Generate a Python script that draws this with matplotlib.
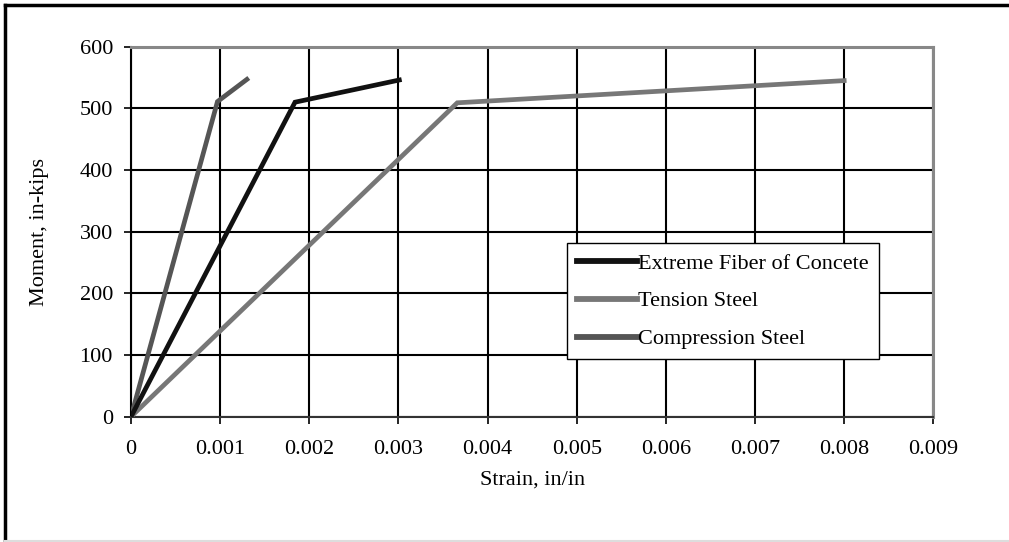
import matplotlib.pyplot as plt
from matplotlib.lines import Line2D

plt.rcParams['font.family'] = ['Liberation Serif', 'DejaVu Serif']

# strain (in/in) vs moment (in-kips)
concrete_strain = [0.0, 0.00184, 0.00301]
concrete_moment = [0, 510, 546]
tension_strain = [0.0, 0.00366, 0.0080]
tension_moment = [0, 509, 545]
compression_strain = [0.0, 0.00097, 0.0013]
compression_moment = [0, 511, 547]

x_ticks = [0, 0.001, 0.002, 0.003, 0.004, 0.005, 0.006, 0.007, 0.008, 0.009]
x_labels = ['0', '0.001', '0.002', '0.003', '0.004', '0.005', '0.006', '0.007', '0.008', '0.009']
y_ticks = [0, 100, 200, 300, 400, 500, 600]

fig = plt.figure(figsize=(10.09, 5.42), dpi=100)
ax = fig.add_axes([131 / 1009, 1 - 416.7 / 542, (933.3 - 131) / 1009, (416.7 - 46.7) / 542])

ax.plot(concrete_strain, concrete_moment, color='#111111', lw=3.4, label='Extreme Fiber of Concete',
        solid_joinstyle='miter', zorder=4)
ax.plot(tension_strain, tension_moment, color='#777777', lw=3.4, label='Tension Steel',
        solid_joinstyle='miter', zorder=3)
ax.plot(compression_strain, compression_moment, color='#555555', lw=3.4, label='Compression Steel',
        solid_joinstyle='miter', zorder=3)

ax.set_xlim(0, 0.009)
ax.set_ylim(0, 600)
ax.set_xticks(x_ticks)
ax.set_xticklabels(x_labels)
ax.set_yticks(y_ticks)
ax.grid(True, color='black', lw=1.5)
ax.set_axisbelow(True)
ax.tick_params(direction='out', length=5, width=1.2, labelsize=16, color='black')
ax.tick_params(axis='x', pad=12)
ax.tick_params(axis='y', pad=8)

ax.spines['left'].set_linewidth(1.5)
ax.spines['bottom'].set_linewidth(1.5)
ax.spines['bottom'].set_color('#333333')
ax.spines['top'].set_color('#888888')
ax.spines['right'].set_color('#888888')
ax.spines['top'].set_linewidth(2.2)
ax.spines['right'].set_linewidth(2.2)

ax.set_xlabel('Strain, in/in', fontsize=16, labelpad=8)
ax.set_ylabel('Moment, in-kips', fontsize=16, labelpad=22)

leg = ax.legend(loc='upper left', bbox_to_anchor=((567 - 131) / 802.3, 1 - (243 - 46.7) / 370),
                fontsize=16, frameon=True, fancybox=False, edgecolor='black', framealpha=1,
                handlelength=2.7, handletextpad=0.05, borderpad=0.45, labelspacing=0.78,
                borderaxespad=0)
leg.get_frame().set_linewidth(1.0)
for h in leg.get_lines():
    h.set_linewidth(4.2)

# outer chart border
fig.add_artist(Line2D([4.5 / 1009, 4.5 / 1009], [0, 1 - 4.5 / 542], color='black', lw=2.5))
fig.add_artist(Line2D([4.5 / 1009, 1], [1 - 4.5 / 542, 1 - 4.5 / 542], color='black', lw=2.5))
fig.add_artist(Line2D([4.5 / 1009, 1], [1.5 / 542, 1.5 / 542], color='#dddddd', lw=1.5))

fig.savefig('out.png', dpi=100)
